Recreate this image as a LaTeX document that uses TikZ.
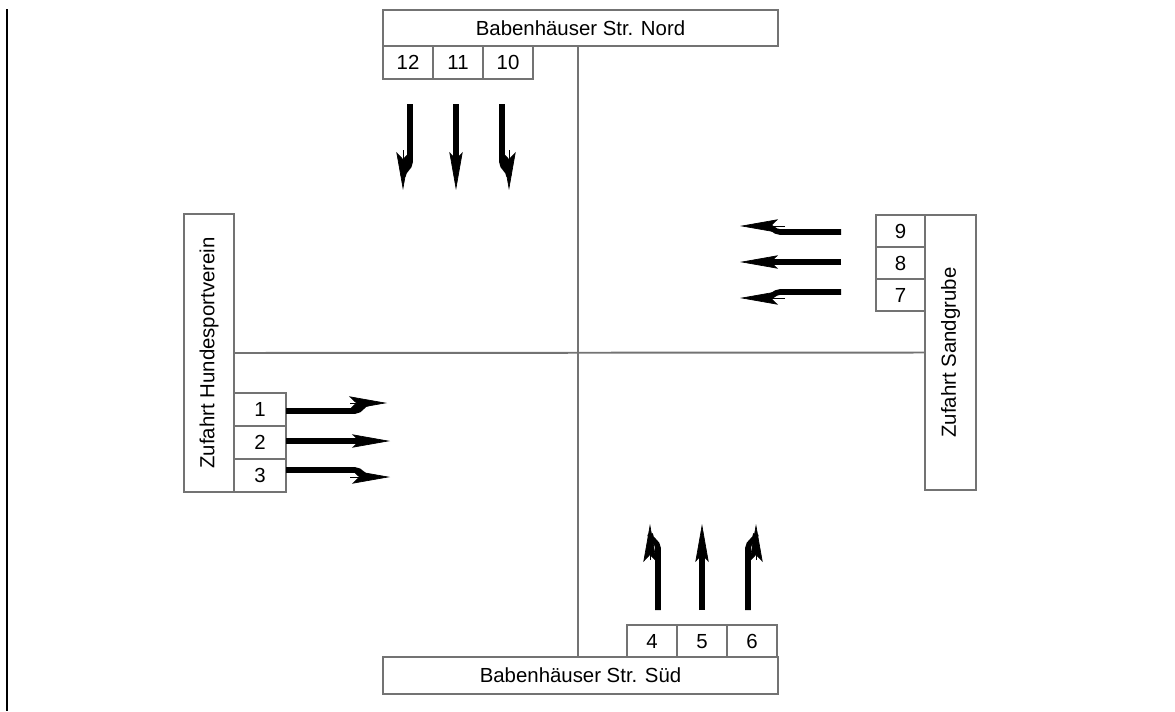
\documentclass[tikz,border=0pt]{standalone}
\usepackage{fontspec}
\setmainfont{Liberation Sans}
\usetikzlibrary{arrows.meta,positioning}
\begin{document}
\begin{tikzpicture}[x=0.025cm,y=-0.025cm,>=Stealth,
  box/.style = {draw=black!55, line width=1.4pt, fill=white, inner sep=0pt, outer sep=0pt, font=\fontsize{14.5}{17}\selectfont},
  lane/.style = {box, minimum width=1.25cm, minimum height=0.825cm, text height=10.4pt, text depth=0pt},
  road/.style = {draw=black!55, line width=1.4pt},
  shaft/.style = {line width=4pt},
  lanehead/.style = {line width=0.5pt, -{Stealth[length=27pt,width=9.5pt,inset=5pt]}},]
\useasboundingbox (0,0) rectangle (1175,711);
\draw[line width=1.4pt] (7,9) -- (7,711);
%Roads
\node (BN) at (580.5,28)[box,minimum width=9.875cm,minimum height=0.9cm] {Babenhäuser Str. Nord};
\node (BS) at (580.5,675.5)[box,minimum width=9.875cm,minimum height=0.925cm] {Babenhäuser Str. Süd};
\node (ZH) at (209,353)[box,rotate=90,minimum width=6.95cm,minimum height=1.25cm] {Zufahrt Hundesportverein};
\node (ZS) at (950.5,352.5)[box,rotate=90,minimum width=6.875cm,minimum height=1.275cm] {Zufahrt Sandgrube};
\draw[road] ([xshift=-0.0625cm]BN.south) -- ([xshift=-0.0625cm]BS.north);
\draw[road] (ZH.south) -- (ZS.north);
%Lanes
\node (L12) at (408,62.5)[lane] {12};
\node (L11) at (458,62.5)[lane] {11};
\node (L10) at (508,62.5)[lane] {10};
\node (L4) at (652,641)[lane,minimum height=0.8cm] {4};
\node (L5) at (702,641)[lane,minimum height=0.8cm] {5};
\node (L6) at (752,641)[lane,minimum height=0.8cm] {6};
\node (L1) at (260,409.5)[lane,minimum width=1.3cm] {1};
\node (L2) at (260,442.5)[lane,minimum width=1.3cm] {2};
\node (L3) at (260,475.5)[lane,minimum width=1.3cm] {3};
\node (L9) at (900.5,231)[lane,minimum width=1.225cm,minimum height=0.8cm] {9};
\node (L8) at (900.5,263)[lane,minimum width=1.225cm,minimum height=0.8cm] {8};
\node (L7) at (900.5,295)[lane,minimum width=1.225cm,minimum height=0.8cm] {7};
%Drawing the turn arrows
\draw[shaft] (410,104) -- (410,162) to[out=-90,in=90] (403,176);
\draw[lanehead] (403,150) -- (403,190);
\draw[shaft] (456,104) -- (456,165);
\draw[lanehead] (456,150) -- (456,190);
\draw[shaft] (502,104) -- (502,162) to[out=-90,in=90] (509,176);
\draw[lanehead] (509,150) -- (509,190);
\draw[shaft] (286,411) -- (355,411) to[out=0,in=180] (369,403);
\draw[lanehead] (350,403) -- (387,403);
\draw[shaft] (286,441) -- (362,441);
\draw[lanehead] (350,441) -- (390,441);
\draw[shaft] (286,470) -- (355,470) to[out=0,in=180] (369,477);
\draw[lanehead] (350,477) -- (390,477);
\draw[shaft] (841,232) -- (780,232) to[out=180,in=0] (766,226);
\draw[lanehead] (785,226) -- (740,226);
\draw[shaft] (841,262) -- (770,262);
\draw[lanehead] (785,262) -- (740,262);
\draw[shaft] (841,292) -- (780,292) to[out=180,in=0] (766,298);
\draw[lanehead] (785,298) -- (740,298);
\draw[shaft] (658,610) -- (658,548) to[out=90,in=-90] (650,534);
\draw[lanehead] (650,560) -- (650,524);
\draw[shaft] (702,610) -- (702,550);
\draw[lanehead] (702,565) -- (702,524);
\draw[shaft] (748,610) -- (748,548) to[out=90,in=-90] (756,534);
\draw[lanehead] (756,560) -- (756,524);
\end{tikzpicture}
\end{document}
